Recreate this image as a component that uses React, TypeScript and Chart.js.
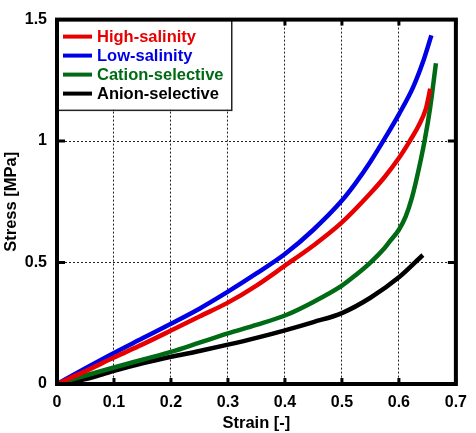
import React, { useEffect, useRef } from "react";
import { Chart, registerables } from "chart.js";

Chart.register(...registerables);

const seriesLabels = ["High-salinity", "Low-salinity", "Cation-selective", "Anion-selective"];
const seriesColors = ["#e80000", "#0000e6", "#006a14", "#000000"];

const strainHigh = [0, 0.05, 0.1, 0.15, 0.2, 0.25, 0.3, 0.35, 0.4, 0.45, 0.5, 0.55, 0.575, 0.6, 0.619, 0.635, 0.647, 0.655];
const stressHigh = [0, 0.053, 0.109, 0.163, 0.22, 0.278, 0.335, 0.405, 0.487, 0.57, 0.665, 0.785, 0.852, 0.93, 1.0, 1.065, 1.13, 1.215];

const strainLow = [0, 0.05, 0.1, 0.15, 0.2, 0.25, 0.3, 0.35, 0.4, 0.45, 0.5, 0.525, 0.55, 0.575, 0.6, 0.625, 0.642, 0.657];
const stressLow = [0, 0.065, 0.128, 0.188, 0.248, 0.31, 0.38, 0.455, 0.535, 0.635, 0.755, 0.83, 0.915, 1.01, 1.11, 1.222, 1.324, 1.435];

const strainCation = [0, 0.05, 0.1, 0.15, 0.2, 0.25, 0.3, 0.35, 0.4, 0.45, 0.5, 0.525, 0.55, 0.575, 0.585, 0.6, 0.612, 0.622, 0.63, 0.645, 0.655, 0.665];
const stressCation = [0, 0.035, 0.068, 0.1, 0.132, 0.17, 0.208, 0.243, 0.282, 0.338, 0.405, 0.45, 0.5, 0.56, 0.59, 0.635, 0.69, 0.76, 0.834, 1.0, 1.14, 1.32];

const strainAnion = [0, 0.03, 0.05, 0.08, 0.1, 0.15, 0.2, 0.25, 0.3, 0.35, 0.4, 0.45, 0.5, 0.55, 0.6, 0.642];
const stressAnion = [0, 0.01, 0.02, 0.04, 0.054, 0.085, 0.112, 0.136, 0.162, 0.19, 0.221, 0.255, 0.292, 0.355, 0.439, 0.531];

const xTicks = [0, 0.1, 0.2, 0.3, 0.4, 0.5, 0.6, 0.7];
const yTicks = [0, 0.5, 1, 1.5];

const toPoints = (xs: number[], ys: number[]) => xs.map((x, i) => ({ x, y: ys[i] }));

const FONT = "'Liberation Sans', Arial, sans-serif";

const framePlugin = {
  id: "frame",
  afterDraw(chart: any) {
    const { ctx, chartArea } = chart;
    const { left, right, top, bottom } = chartArea;
    const xs = chart.scales.x;
    const ys = chart.scales.y;
    ctx.save();
    ctx.strokeStyle = "#000";
    ctx.lineWidth = 3;
    ctx.beginPath();
    xTicks.forEach((v) => {
      const px = xs.getPixelForValue(v);
      ctx.moveTo(px, bottom);
      ctx.lineTo(px, bottom - 6);
      ctx.moveTo(px, top);
      ctx.lineTo(px, top + 6);
    });
    yTicks.forEach((v) => {
      const py = ys.getPixelForValue(v);
      ctx.moveTo(left, py);
      ctx.lineTo(left + 8, py);
      ctx.moveTo(right, py);
      ctx.lineTo(right - 8, py);
    });
    ctx.stroke();
    const lx = left, ly = top, lw = 174, lh = 90;
    ctx.fillStyle = "#fff";
    ctx.fillRect(lx, ly, lw, lh);
    ctx.lineWidth = 1.5;
    ctx.strokeStyle = "#222";
    ctx.strokeRect(lx + 0.75, ly + 0.75, lw, lh);
    ctx.font = `bold 16.5px ${FONT}`;
    ctx.textBaseline = "middle";
    ctx.textAlign = "left";
    chart.data.datasets.forEach((ds: any, i: number) => {
      const rowY = ly + 17 + i * 19;
      ctx.strokeStyle = ds.borderColor;
      ctx.lineWidth = 4;
      ctx.beginPath();
      ctx.moveTo(lx + 6, rowY);
      ctx.lineTo(lx + 35, rowY);
      ctx.stroke();
      ctx.fillStyle = ds.borderColor;
      ctx.fillText(ds.label, lx + 40, rowY + 1);
    });
    ctx.strokeStyle = "#000";
    ctx.lineWidth = 4;
    ctx.strokeRect(left, top, right - left, bottom - top);
    ctx.restore();
  },
};

export default function App() {
  const ref = useRef<HTMLCanvasElement | null>(null);
  useEffect(() => {
    document.body.style.margin = "0";
    const canvas = ref.current;
    if (!canvas) return;
    const xsArr = [strainHigh, strainLow, strainCation, strainAnion];
    const ysArr = [stressHigh, stressLow, stressCation, stressAnion];
    const chart = new Chart(canvas, {
      type: "line",
      data: {
        datasets: seriesLabels.map((label, i) => ({
          label,
          data: toPoints(xsArr[i], ysArr[i]),
          borderColor: seriesColors[i],
          backgroundColor: seriesColors[i],
          borderWidth: 4.5,
          pointRadius: 0,
          cubicInterpolationMode: "monotone" as const,
          fill: false,
        })),
      },
      options: {
        animation: false,
        responsive: false,
        layout: { padding: { left: 0, right: 12, top: 17, bottom: 0 } },
        plugins: { legend: { display: false }, tooltip: { enabled: false } },
        scales: {
          x: {
            type: "linear",
            min: 0,
            max: 0.7,
            afterFit: (s: any) => { s.height = 49; },
            afterBuildTicks: (s: any) => { s.ticks = xTicks.map((v) => ({ value: v })); },
            ticks: {
              padding: 9,
              color: "#000",
              font: { family: FONT, size: 16, weight: "bold" },
              callback: (v: any) => String(+Number(v).toFixed(1)),
              maxRotation: 0,
            },
            grid: { color: "#222", lineWidth: 1, drawTicks: false },
            border: { display: false, dash: [2, 2] },
            title: {
              display: true,
              text: "Strain [-]",
              color: "#000",
              font: { family: FONT, size: 16.5, weight: "bold" },
              padding: { top: 0, bottom: 0 },
            },
          },
          y: {
            type: "linear",
            min: 0,
            max: 1.5,
            afterFit: (s: any) => { s.width = 57; },
            afterBuildTicks: (s: any) => { s.ticks = yTicks.map((v) => ({ value: v })); },
            ticks: {
              padding: 10,
              color: "#000",
              font: { family: FONT, size: 16, weight: "bold" },
              callback: (v: any) => String(+Number(v).toFixed(1)),
            },
            grid: { color: "#222", lineWidth: 1, drawTicks: false },
            border: { display: false, dash: [2, 2] },
            title: {
              display: true,
              text: "Stress [MPa]",
              color: "#000",
              font: { family: FONT, size: 16.5, weight: "bold" },
              padding: { top: 2, bottom: 0 },
            },
          },
        },
      },
      plugins: [framePlugin],
    });
    return () => chart.destroy();
  }, []);
  return (
    <div style={{ width: 476, height: 433 }}>
      <canvas ref={ref} width={476} height={433} />
    </div>
  );
}
